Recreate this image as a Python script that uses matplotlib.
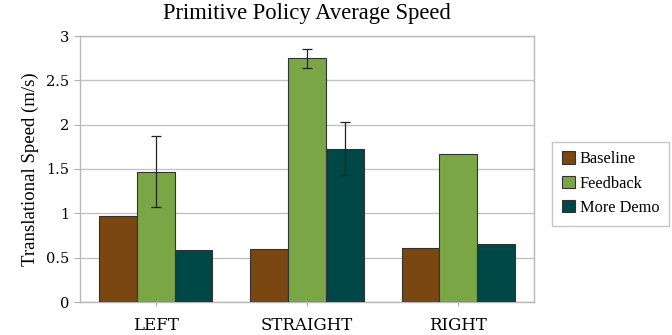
import matplotlib
matplotlib.use("Agg")
import matplotlib.pyplot as plt
import numpy as np

categories = ["LEFT", "STRAIGHT", "RIGHT"]
series_names = ["Baseline", "Feedback", "More Demo"]
baseline = [0.97, 0.60, 0.61]
feedback = [1.47, 2.75, 1.67]
more_demo = [0.59, 1.72, 0.65]
# asymmetric error ranges (lower, upper) per bar; None where no bar is shown
feedback_err_low = [1.07, 2.64, None]
feedback_err_high = [1.87, 2.85, None]
demo_err_low = [None, 1.43, None]
demo_err_high = [None, 2.03, None]

colors = ["#7a4612", "#7ba646", "#004747"]

fig = plt.figure(figsize=(6.72, 3.35), dpi=100)
ax = fig.add_axes([80 / 672, 33 / 335, 454 / 672, 266 / 335])

x = np.arange(len(categories))
w = 0.25
values = [baseline, feedback, more_demo]
for i, (vals, name, c) in enumerate(zip(values, series_names, colors)):
    ax.bar(x + (i - 1) * w, vals, width=w, color=c, edgecolor="#333333",
           linewidth=0.8, label=name, zorder=3)


def draw_err(offset, vals, lows, highs):
    for xi, v, lo, hi in zip(x, vals, lows, highs):
        if lo is None:
            continue
        ax.errorbar(xi + offset, v, yerr=[[v - lo], [hi - v]], fmt="none",
                    ecolor="#222222", elinewidth=0.9, capsize=3.5,
                    capthick=0.9, zorder=4)


draw_err(0, feedback, feedback_err_low, feedback_err_high)
draw_err(w, more_demo, demo_err_low, demo_err_high)

ax.set_xlim(-0.5, 2.5)
ax.set_ylim(0, 3)
ax.set_yticks(np.arange(0, 3.01, 0.5))
ax.set_yticklabels(["0", "0.5", "1", "1.5", "2", "2.5", "3"])
ax.set_xticks(x)
ax.set_xticklabels(categories)
for t in ax.get_yticklabels():
    t.set_fontfamily("DejaVu Serif")
    t.set_fontsize(10.5)
for t in ax.get_xticklabels():
    t.set_fontfamily("DejaVu Serif")
    t.set_fontsize(12)
ax.tick_params(axis="y", length=4, color="#b0b0b0", pad=4)
ax.tick_params(axis="x", length=3, color="#b0b0b0", pad=8)
ax.grid(axis="y", color="#c4c4c4", linewidth=1.0, zorder=0)
for s in ax.spines.values():
    s.set_color("#b8b8b8")
    s.set_linewidth(1.0)

ax.set_ylabel("Translational Speed (m/s)", family="Liberation Serif",
              fontsize=13.5, labelpad=5)
fig.text(307 / 672, 1 - 14 / 335, "Primitive Policy Average Speed",
         family="Liberation Serif", fontsize=16.3, ha="center", va="center")

leg = ax.legend(loc="center left", bbox_to_anchor=((552 - 80) / 454, 0.445),
                prop={"family": "Liberation Serif", "size": 11.8},
                frameon=True, fancybox=False, handlelength=0.8,
                handleheight=0.8, handletextpad=0.3, borderpad=0.6,
                labelspacing=0.5, borderaxespad=0)
leg.get_frame().set_edgecolor("#b8b8b8")
leg.get_frame().set_linewidth(1.0)

fig.savefig("out.png", dpi=100)
